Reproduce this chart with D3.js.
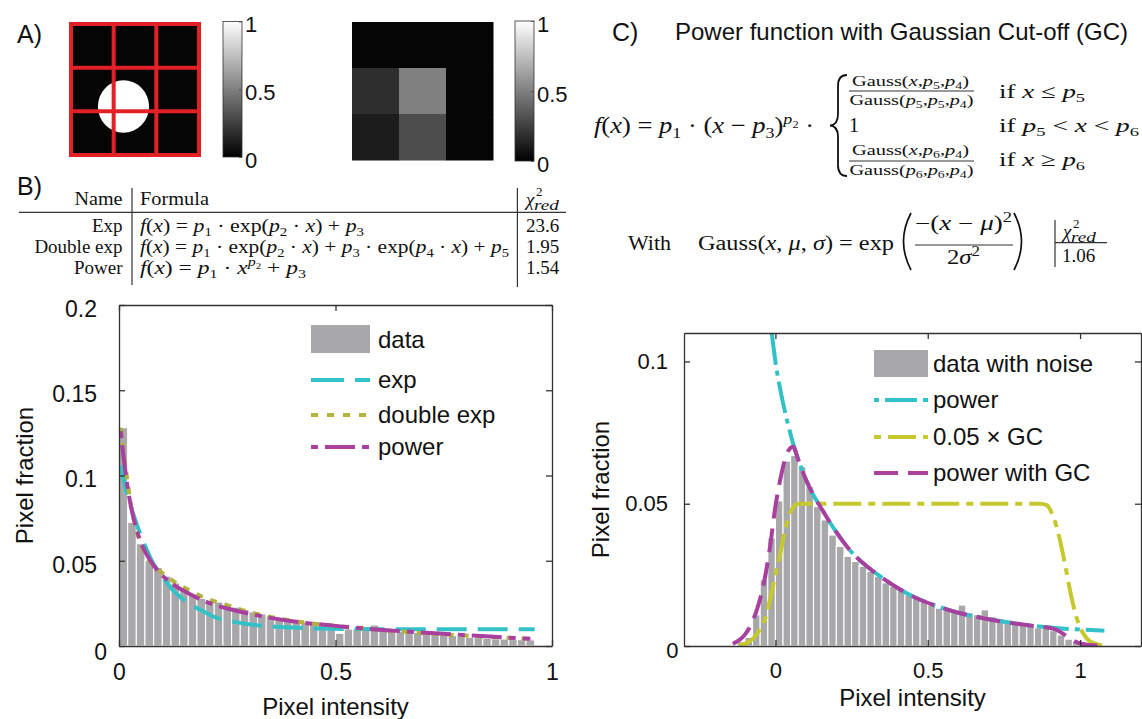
<!DOCTYPE html>
<html>
<head>
<meta charset="utf-8">
<script src="https://cdn.jsdelivr.net/npm/d3@7"></script>
<style>
html, body { margin: 0; padding: 0; background: #fff; }
svg { display: block; }
text { white-space: pre; }
</style>
</head>
<body>
<svg id="fig" width="1142" height="719"></svg>
<script>
// ---------------- data ----------------
// panel A: toy image (white disk on black) and its 3x3 binned version
var disk = {cx: 0.41, cy: 0.63, r: 0.2};          // image units
var binnedGray = [[0.02, 0.02, 0.02],
                  [0.18, 0.50, 0.02],
                  [0.11, 0.30, 0.02]];             // rows top -> bottom
var cbarTicks = [0, 0.5, 1];

// panel B: histogram of pixel intensities and the three fits
var binStartB = 0, binWidthB = 0.02;
var histB = [0.128, 0.0725, 0.060, 0.050, 0.046, 0.041, 0.037, 0.0335, 0.0305, 0.028,
             0.0265, 0.0258, 0.0242, 0.0228, 0.0214, 0.0201, 0.0188, 0.0178, 0.0168, 0.0158,
             0.0148, 0.0140, 0.0134, 0.0126, 0.0110, 0.0075, 0.0100, 0.0100, 0.0099, 0.0123,
             0.0103, 0.0091, 0.0085, 0.0081, 0.0080, 0.0077, 0.0071, 0.0065, 0.0061, 0.0057,
             0.0051, 0.0049, 0.0045, 0.0042, 0.0041, 0.0038, 0.0037, 0.0036];
var expFit = [[0.004, 0.106], [0.012, 0.096], [0.026, 0.083], [0.04, 0.072], [0.06, 0.059],
              [0.08, 0.048], [0.10, 0.041], [0.12, 0.034], [0.14, 0.029], [0.16, 0.025],
              [0.19, 0.021], [0.22, 0.017], [0.26, 0.0145], [0.30, 0.0128], [0.35, 0.0115],
              [0.40, 0.0108], [0.46, 0.0102], [0.55, 0.0099], [0.70, 0.0098], [0.96, 0.0098]];
var dexpFit = [[0.004, 0.128], [0.01, 0.115], [0.02, 0.096], [0.03, 0.079], [0.04, 0.068],
               [0.05, 0.060], [0.07, 0.050], [0.09, 0.045], [0.12, 0.039], [0.16, 0.033],
               [0.2, 0.028], [0.25, 0.024], [0.3, 0.020], [0.35, 0.017], [0.4, 0.0148],
               [0.5, 0.0118], [0.6, 0.0095], [0.7, 0.0076], [0.8, 0.0061], [0.9, 0.0048], [0.95, 0.0042]];
var powFit = [[0.004, 0.126], [0.01, 0.112], [0.02, 0.093], [0.03, 0.079], [0.04, 0.069],
              [0.05, 0.061], [0.07, 0.051], [0.09, 0.044], [0.12, 0.037], [0.16, 0.031],
              [0.2, 0.026], [0.25, 0.022], [0.3, 0.019], [0.35, 0.0165], [0.4, 0.0145],
              [0.5, 0.0118], [0.6, 0.0096], [0.7, 0.0079], [0.8, 0.0064], [0.9, 0.0049], [0.95, 0.0042]];
var tableNames = ["Exp", "Double exp", "Power"];
var tableFormulas = ["f(x) = p_1 · exp(p_2 · x) + p_3",
                     "f(x) = p_1 · exp(p_2 · x) + p_3 · exp(p_4 · x) + p_5",
                     "f(x) = p_1 · x^{p_2} + p_3"];
var tableChi2 = ["23.6", "1.95", "1.54"];

// panel C: noisy histogram, power fit, gaussian cut-off and the product
var binStartC = -0.125, binWidthC = 0.025;
var histC = [0.0015, 0.003, 0.011, 0.0233, 0.038, 0.051, 0.065, 0.067, 0.063, 0.056,
             0.049, 0.0443, 0.039, 0.035, 0.0315, 0.0297, 0.028, 0.0262, 0.0245, 0.0222,
             0.021, 0.0195, 0.018, 0.0168, 0.0156, 0.0144, 0.0133, 0.0127, 0.012, 0.0144,
             0.0116, 0.011, 0.0127, 0.0103, 0.0097, 0.0091, 0.0085, 0.0074, 0.0070, 0.0064,
             0.0062, 0.0054, 0.0039, 0.0024, 0.0015, 0.0012, 0.0007];
var powC = [[-0.012, 0.110], [0.0, 0.100], [0.02, 0.088], [0.04, 0.0785], [0.06, 0.0705],
            [0.08, 0.064], [0.1, 0.0585], [0.12, 0.054], [0.15, 0.0485], [0.2, 0.040],
            [0.25, 0.033], [0.3, 0.028], [0.35, 0.024], [0.4, 0.0205], [0.45, 0.0175],
            [0.5, 0.0152], [0.55, 0.0133], [0.6, 0.0117], [0.65, 0.0105], [0.7, 0.0094],
            [0.75, 0.0085], [0.8, 0.0077], [0.85, 0.0070], [0.9, 0.0065], [0.95, 0.0061],
            [1.0, 0.0058], [1.05, 0.0055], [1.08, 0.0054]];
var gcC = [[-0.12, 0.0003], [-0.094, 0.001], [-0.07, 0.003], [-0.05, 0.006], [-0.034, 0.0095],
           [-0.017, 0.0165], [0.0, 0.025], [0.015, 0.032], [0.03, 0.040], [0.045, 0.0458],
           [0.06, 0.049], [0.075, 0.050], [0.87, 0.050], [0.89, 0.0495], [0.91, 0.046],
           [0.93, 0.039], [0.95, 0.029], [0.97, 0.018], [0.99, 0.0095], [1.01, 0.0045],
           [1.03, 0.0018], [1.06, 0.0005], [1.08, 0.0002]];
var powGcC = [[-0.14, 0.0008], [-0.12, 0.002], [-0.1, 0.004], [-0.08, 0.0075], [-0.06, 0.013],
              [-0.04, 0.021], [-0.02, 0.033], [0.0, 0.049], [0.015, 0.058], [0.03, 0.065],
              [0.045, 0.069], [0.058, 0.070], [0.075, 0.0655], [0.1, 0.0585], [0.12, 0.054],
              [0.15, 0.0485], [0.2, 0.040], [0.25, 0.033], [0.3, 0.028], [0.35, 0.024],
              [0.4, 0.0205], [0.45, 0.0175], [0.5, 0.0152], [0.55, 0.0133], [0.6, 0.0117],
              [0.65, 0.0105], [0.7, 0.0094], [0.75, 0.0085], [0.8, 0.0077], [0.85, 0.0070],
              [0.9, 0.0064], [0.92, 0.0058], [0.94, 0.0046], [0.96, 0.0031], [0.98, 0.0018],
              [1.0, 0.0009], [1.03, 0.0004], [1.076, 0.0001]];
var chi2C = "1.06";

// ---------------- setup ----------------
var SANS = "'Liberation Sans', Arial, sans-serif";
var SERIF = "'Liberation Serif', 'Times New Roman', serif";
var INK = "#111", AXC = "#333";
var CYAN = "#33c1c8", OLIVE = "#b3b23e", YELLOW = "#c6c92e", MAGENTA = "#a9409f", BAR = "#a8a8aa";

var svg = d3.select("#fig");
var defs = svg.append("defs");
var fmt = d3.format("~g");

function sans(g, x, y, s, fs) {
  return g.append("text").attr("x", x).attr("y", y)
    .attr("font-family", SANS).attr("font-size", fs).attr("fill", INK).text(s);
}

// tiny math typesetter: _x / ^x scripts, single letters italic, a few roman words
var ROMAN = {exp: 1, Gauss: 1, "if": 1, With: 1};
function mathRuns(s) {
  var runs = [];
  function push(t, it, sh, sc) {
    var l = runs[runs.length - 1];
    if (l && l.it === it && l.sh === sh && l.sc === sc) l.t += t;
    else runs.push({t: t, it: it, sh: sh, sc: sc});
  }
  function scan(str, sh, sc) {
    var j = 0;
    while (j < str.length) {
      var c = str[j];
      if (c === "_" || c === "^") {
        var grp;
        if (str[j + 1] === "{") { var e = str.indexOf("}", j); grp = str.slice(j + 2, e); j = e + 1; }
        else { grp = str[j + 1]; j += 2; }
        scan(grp, sh + (c === "_" ? 0.22 : -0.38) * sc, sc * 0.68);
        continue;
      }
      var m = /^[A-Za-z]+/.exec(str.slice(j));
      if (m) { push(m[0], !ROMAN[m[0]], sh, sc); j += m[0].length; continue; }
      push(c, "χμσ".indexOf(c) >= 0, sh, sc);
      j++;
    }
  }
  scan(s, 0, 1);
  return runs;
}
function mathText(g, x, y, s, fs, w, anchor) {
  var t = g.append("text").attr("x", x).attr("y", y)
    .attr("font-family", SERIF).attr("font-size", fs).attr("fill", INK)
    .attr("text-anchor", anchor || "start");
  var cur = 0;
  mathRuns(s).forEach(function(r) {
    t.append("tspan").attr("dy", ((r.sh - cur) * fs).toFixed(2))
      .attr("font-size", (r.sc * fs).toFixed(2))
      .attr("font-style", r.it ? "italic" : null)
      .text(r.t);
    cur = r.sh;
  });
  if (w) t.attr("textLength", w).attr("lengthAdjust", "spacingAndGlyphs");
  return t;
}
function rule(g, x1, y1, x2, y2, w) {
  g.append("line").attr("x1", x1).attr("y1", y1).attr("x2", x2).attr("y2", y2)
    .attr("stroke", AXC).attr("stroke-width", w || 1.2);
}
function chi2red(g, x, y) {
  mathText(g, x, y, "χ", 19);
  mathText(g, x + 10, y - 10, "2", 13);
  mathText(g, x + 8, y + 4, "red", 14, 25);
}

// ---------------- panel A ----------------
var gA = svg.append("g");
sans(gA, 17, 43, "A)", 25);

var ax = d3.scaleLinear([0, 1], [71, 199]), ay = d3.scaleLinear([0, 1], [24, 155]);
defs.append("clipPath").attr("id", "imgClip").append("rect")
  .attr("x", ax(0)).attr("y", ay(0)).attr("width", ax(1) - ax(0)).attr("height", ay(1) - ay(0));
gA.append("rect").attr("x", ax(0)).attr("y", ay(0))
  .attr("width", ax(1) - ax(0)).attr("height", ay(1) - ay(0)).attr("fill", "#050505");
gA.append("ellipse").attr("clip-path", "url(#imgClip)")
  .attr("cx", ax(disk.cx)).attr("cy", ay(disk.cy))
  .attr("rx", ax(disk.r) - ax(0)).attr("ry", ay(disk.r) - ay(0)).attr("fill", "#fff");
var thirds = d3.range(4).map(function(i) { return i / 3; });
gA.append("g").selectAll("line").data(thirds).join("line")
  .attr("x1", function(d) { return ax(d); }).attr("x2", function(d) { return ax(d); })
  .attr("y1", ay(0)).attr("y2", ay(1));
gA.append("g").selectAll("line").data(thirds).join("line")
  .attr("y1", function(d) { return ay(d); }).attr("y2", function(d) { return ay(d); })
  .attr("x1", ax(0)).attr("x2", ax(1));
gA.selectAll("g line").attr("stroke", "#e32026").attr("stroke-width", 4).attr("stroke-linecap", "square");

var gray = d3.scaleLinear([0, 1], ["#000", "#fff"]);
var cxs = d3.scaleLinear([0, 3], [352, 493]), cys = d3.scaleLinear([0, 3], [22, 160]);
var cells = [];
binnedGray.forEach(function(row, r) { row.forEach(function(v, c) { cells.push({r: r, c: c, v: v}); }); });
gA.selectAll("rect.cell").data(cells).join("rect").attr("class", "cell")
  .attr("x", function(d) { return cxs(d.c); }).attr("y", function(d) { return cys(d.r); })
  .attr("width", cxs(1) - cxs(0) + 0.5).attr("height", cys(1) - cys(0) + 0.5)
  .attr("fill", function(d) { return gray(d.v); });

var grad = defs.append("linearGradient").attr("id", "grayGrad")
  .attr("x1", 0).attr("y1", 1).attr("x2", 0).attr("y2", 0);
grad.append("stop").attr("offset", 0).attr("stop-color", gray(0));
grad.append("stop").attr("offset", 1).attr("stop-color", gray(1));

function colorbar(x0, x1, y0, y1) {
  var s = d3.scaleLinear([0, 1], [y1, y0]);
  gA.append("rect").attr("x", x0).attr("y", y0).attr("width", x1 - x0).attr("height", y1 - y0)
    .attr("fill", "url(#grayGrad)").attr("stroke", AXC).attr("stroke-width", 0.8);
  var r = gA.append("g").attr("transform", "translate(" + x1 + ",0)")
    .call(d3.axisRight(s).tickValues(cbarTicks).tickSize(-3).tickSizeOuter(0).tickPadding(3).tickFormat(fmt));
  r.select(".domain").remove();
  r.selectAll("line").attr("stroke", "#555");
  r.selectAll("text").attr("font-family", SANS).attr("font-size", 22).attr("fill", INK)
    .attr("transform", "translate(0,3)");
}
colorbar(223, 242, 21.5, 157);
colorbar(515, 534, 21, 161);

// ---------------- panel B ----------------
var gB = svg.append("g");
sans(gB, 17, 195, "B)", 25);

// formula table
rule(gB, 19, 212.3, 566, 212.3);
rule(gB, 132, 188, 132, 285);
rule(gB, 517.4, 188, 517.4, 287);
gB.append("text").attr("x", 122.5).attr("y", 205).attr("text-anchor", "end")
  .attr("font-family", SERIF).attr("font-size", 19).attr("fill", INK)
  .attr("textLength", 48).attr("lengthAdjust", "spacingAndGlyphs").text("Name");
gB.append("text").attr("x", 140).attr("y", 205)
  .attr("font-family", SERIF).attr("font-size", 19).attr("fill", INK)
  .attr("textLength", 69).attr("lengthAdjust", "spacingAndGlyphs").text("Formula");
chi2red(gB, 526, 206);
tableNames.forEach(function(n, i) {
  var y = 231.5 + i * 21;
  gB.append("text").attr("x", 122.5).attr("y", y).attr("text-anchor", "end")
    .attr("font-family", SERIF).attr("font-size", 19).attr("fill", INK).text(n);
  mathText(gB, 140, y, tableFormulas[i], 19, [224, 369, 166][i]);
  gB.append("text").attr("x", 526).attr("y", y).attr("font-family", SERIF)
    .attr("font-size", 19).attr("fill", INK).text(tableChi2[i]);
});

var xB = d3.scaleLinear([0, 1], [119, 552]);
var yB = d3.scaleLinear([0, 0.2], [646, 305]);

function bars(g, data, start, width, x, y) {
  g.append("g").selectAll("rect").data(data).join("rect")
    .attr("x", function(d, i) { return x(start + i * width); })
    .attr("width", function(d, i) { return x(start + (i + 1) * width) - x(start + i * width); })
    .attr("y", function(d) { return y(d); })
    .attr("height", function(d) { return y(0) - y(d); })
    .attr("fill", BAR).attr("stroke", "#fff").attr("stroke-width", 1.1);
}
function curve(g, data, x, y, color, dash, off, clip) {
  var line = d3.line().x(function(d) { return x(d[0]); }).y(function(d) { return y(d[1]); })
    .curve(d3.curveMonotoneX);
  g.append("path").datum(data).attr("d", line)
    .attr("fill", "none").attr("stroke", color).attr("stroke-width", 4)
    .attr("stroke-dasharray", dash).attr("stroke-dashoffset", off || 0)
    .attr("clip-path", clip ? "url(#" + clip + ")" : null);
}
function boxAxes(g, x, y, xt, yt, o) {
  var x0 = x.range()[0], x1 = x.range()[1], y0 = y.range()[0], y1 = y.range()[1];
  function st(a) {
    a.selectAll("path, line").attr("stroke", AXC).attr("stroke-width", 1.3);
    a.selectAll("text").attr("font-family", SANS).attr("font-size", o.fs).attr("fill", INK);
  }
  g.append("g").attr("transform", "translate(0," + y0 + ")")
    .call(d3.axisBottom(x).tickValues(xt).tickSize(-6).tickSizeOuter(0).tickPadding(o.xpad).tickFormat(fmt))
    .call(st);
  var l = g.append("g").attr("transform", "translate(" + x0 + ",0)")
    .call(d3.axisLeft(y).tickValues(yt).tickSize(-6).tickSizeOuter(0).tickPadding(o.ypad).tickFormat(fmt))
    .call(st);
  l.selectAll("text").attr("transform", function(d) {
    return d === 0 ? "translate(" + o.zero[0] + "," + o.zero[1] + ")" : "translate(0," + o.dy + ")";
  });
  g.append("g").attr("transform", "translate(0," + y1 + ")")
    .call(d3.axisTop(x).tickValues(xt).tickSize(-6).tickSizeOuter(0).tickFormat("")).call(st);
  g.append("g").attr("transform", "translate(" + x1 + ",0)")
    .call(d3.axisRight(y).tickValues(yt).tickSize(-6).tickSizeOuter(0).tickFormat("")).call(st);
  g.append("text").attr("x", (x0 + x1) / 2).attr("y", o.xlabY).attr("text-anchor", "middle")
    .attr("font-family", SANS).attr("font-size", 24).attr("fill", INK).text("Pixel intensity");
  g.append("text").attr("transform", "translate(" + o.ylabX + "," + (y0 + y1) / 2 + ") rotate(-90)")
    .attr("text-anchor", "middle").attr("font-family", SANS).attr("font-size", 24).attr("fill", INK)
    .text("Pixel fraction");
}
function legend(g, items, x0, x1, tx, fs) {
  items.forEach(function(it) {
    if (it.patch) {
      g.append("rect").attr("x", x0).attr("y", it.patch[0]).attr("width", x1 - x0)
        .attr("height", it.patch[1] - it.patch[0]).attr("fill", BAR);
    } else {
      g.append("line").attr("x1", x0).attr("x2", x1).attr("y1", it.y).attr("y2", it.y)
        .attr("stroke", it.color).attr("stroke-width", 4)
        .attr("stroke-dasharray", it.dash).attr("stroke-dashoffset", it.off || 0);
    }
    g.append("text").attr("x", tx).attr("y", it.y).attr("dy", "0.35em")
      .attr("font-family", SANS).attr("font-size", fs).attr("fill", INK).text(it.label);
  });
}

bars(gB, histB, binStartB, binWidthB, xB, yB);
curve(gB, expFit, xB, yB, CYAN, "30,11");
curve(gB, dexpFit, xB, yB, OLIVE, "7,8");
curve(gB, powFit, xB, yB, MAGENTA, "30,7,7,7", 37);
boxAxes(gB, xB, yB, [0, 0.5, 1], [0, 0.05, 0.1, 0.15, 0.2],
  {fs: 23, xpad: 18, ypad: 22, dy: 4, zero: [10, 6], xlabY: 715, ylabX: 33});
legend(gB, [
  {label: "data", y: 340, patch: [325, 353]},
  {label: "exp", y: 380, color: CYAN, dash: "33,11"},
  {label: "double exp", y: 415, color: OLIVE, dash: "7,9"},
  {label: "power", y: 447, color: MAGENTA, dash: "30,7,7,7", off: 37}
], 311, 370, 378, 24);

// ---------------- panel C ----------------
var gC = svg.append("g");
sans(gC, 612, 41, "C)", 25);
sans(gC, 675, 40, "Power function with Gaussian Cut-off (GC)", 24);

mathText(gC, 594, 133, "f(x) = p_1 · (x − p_3)^{p_2} ·", 23, 220);
var brace = d3.path();
brace.moveTo(847, 75); brace.quadraticCurveTo(838, 75, 838, 86); brace.lineTo(838, 114);
brace.quadraticCurveTo(838, 125, 830, 125.5); brace.quadraticCurveTo(838, 126, 838, 137);
brace.lineTo(838, 165); brace.quadraticCurveTo(838, 176, 847, 176);
gC.append("path").attr("d", brace.toString()).attr("fill", "none").attr("stroke", INK).attr("stroke-width", 1.8);

mathText(gC, 910.5, 86, "Gauss(x,p_5,p_4)", 15, 117, "middle");
rule(gC, 849, 91, 974, 91, 1.1);
mathText(gC, 911.5, 105, "Gauss(p_5,p_5,p_4)", 15, 124, "middle");
mathText(gC, 999, 98, "if x ≤ p_5", 19, 86);
mathText(gC, 849, 132, "1", 20);
mathText(gC, 999, 132, "if p_5 < x < p_6", 19, 140);
mathText(gC, 910.5, 155, "Gauss(x,p_6,p_4)", 15, 117, "middle");
rule(gC, 849, 161, 974, 161, 1.1);
mathText(gC, 911.5, 175, "Gauss(p_6,p_6,p_4)", 15, 124, "middle");
mathText(gC, 999, 166, "if x ≥ p_6", 19, 86);

mathText(gC, 628, 250, "With", 20, 43);
mathText(gC, 698, 250, "Gauss(x, μ, σ) = exp", 20, 196);
var par = d3.path();
par.moveTo(911, 213); par.quadraticCurveTo(896, 241.5, 911, 270);
par.moveTo(1014, 213); par.quadraticCurveTo(1029, 241.5, 1014, 270);
gC.append("path").attr("d", par.toString()).attr("fill", "none").attr("stroke", INK).attr("stroke-width", 1.7);
mathText(gC, 963.5, 230, "−(x − μ)^2", 20, 97, "middle");
rule(gC, 915, 245, 1013, 245, 1.1);
mathText(gC, 963.5, 264, "2σ^2", 20, 33, "middle");
rule(gC, 1055, 220, 1055, 267);
rule(gC, 1055, 242.7, 1107, 242.7);
chi2red(gC, 1063, 238);
gC.append("text").attr("x", 1062).attr("y", 262).attr("font-family", SERIF)
  .attr("font-size", 19).attr("fill", INK).text(chi2C);

var xC = d3.scaleLinear([-0.3, 1.2], [684, 1141]);
var yC = d3.scaleLinear([0, 0.11], [646, 333]);
defs.append("clipPath").attr("id", "clipC").append("rect")
  .attr("x", xC(-0.3)).attr("y", yC(0.11)).attr("width", xC(1.2) - xC(-0.3)).attr("height", yC(0) - yC(0.11));

bars(gC, histC, binStartC, binWidthC, xC, yC);
curve(gC, powC, xC, yC, CYAN, "32,6,5,6", 0, "clipC");
curve(gC, gcC, xC, yC, YELLOW, "28,7,7,7", 0, "clipC");
curve(gC, powGcC, xC, yC, MAGENTA, "24,10", 0, "clipC");
boxAxes(gC, xC, yC, [0, 0.5, 1], [0, 0.05, 0.1],
  {fs: 22, xpad: 16, ypad: 16, dy: 0, zero: [10.5, 4], xlabY: 706, ylabX: 609});
legend(gC, [
  {label: "data with noise", y: 364, patch: [350, 377]},
  {label: "power", y: 400, color: CYAN, dash: "32,6,5,6", off: 38},
  {label: "0.05 × GC", y: 437, color: YELLOW, dash: "28,7,7,7", off: 35},
  {label: "power with GC", y: 473, color: MAGENTA, dash: "24,10"}
], 874, 928, 933, 24);
</script>
</body>
</html>
